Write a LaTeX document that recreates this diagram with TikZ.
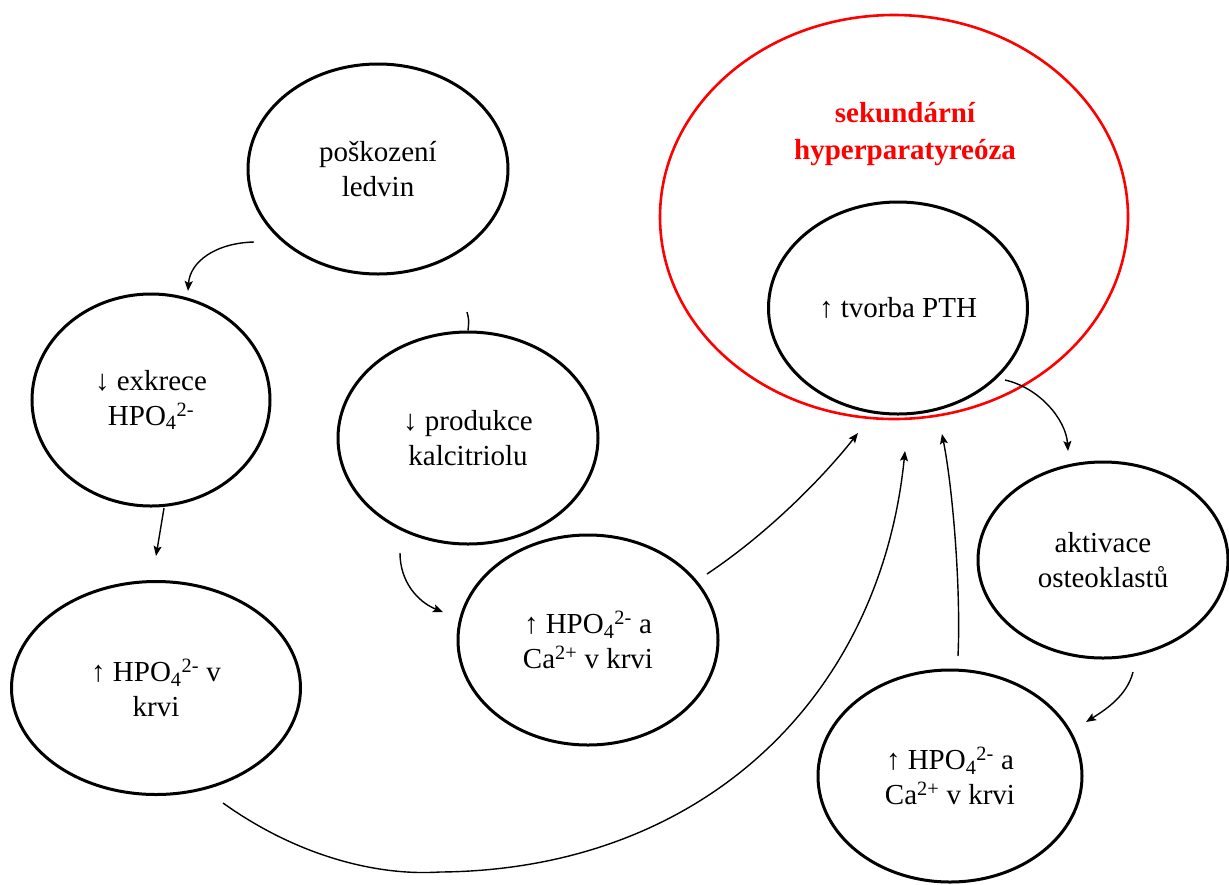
\documentclass[tikz,border=0pt]{standalone}
\usepackage{fontspec}
\setmainfont{Liberation Serif}
\usetikzlibrary{shapes.geometric,arrows.meta}
\definecolor{pathred}{RGB}{255,0,0}
\begin{document}
\begin{tikzpicture}[x=1pt,y=-1pt,
  bub/.style={ellipse,draw=black,line width=3pt,inner sep=0pt,align=center,
    font=\fontsize{29}{35}\selectfont},
  conn/.style={line width=1.4pt,-{Stealth[length=10pt,width=8pt,inset=2pt]}},
  plain/.style={line width=1.4pt},
]
\useasboundingbox (0,0) rectangle (1229,884);
% red container
\node[ellipse,draw=pathred,line width=2.6pt,minimum width=468pt,minimum height=404pt,inner sep=0pt] (sec) at (894,217) {};
\node[text=pathred,align=center,font=\bfseries\fontsize{29}{37}\selectfont] (sectitle) at (905,134) {sekundární\\hyperparatyreóza};
% bubbles
\node[bub,minimum width=260pt,minimum height=210pt] (kid) at (378,169) {poškození\\ledvin};
\node[bub,minimum width=238pt,minimum height=212pt] (exc) at (151,400) {↓ exkrece\\HPO\textsubscript{4}\textsuperscript{2-}};
\node[bub,minimum width=260pt,minimum height=212pt] (cal) at (468,438) {↓ produkce\\kalcitriolu};
\node[bub,minimum width=289pt,minimum height=213pt] (blood) at (156,688) {↑ HPO\textsubscript{4}\textsuperscript{2-} v\\krvi};
\node[bub,minimum width=260pt,minimum height=210pt] (mid) at (588,640) {↑ HPO\textsubscript{4}\textsuperscript{2-} a\\Ca\textsuperscript{2+} v krvi};
\node[bub,minimum width=259pt,minimum height=212pt] (pth) at (898,308) {↑ tvorba PTH};
\node[bub,minimum width=250pt,minimum height=196pt] (ost) at (1103,560) {aktivace\\osteoklastů};
\node[bub,minimum width=264pt,minimum height=212pt] (bone) at (950,776) {↑ HPO\textsubscript{4}\textsuperscript{2-} a\\Ca\textsuperscript{2+} v krvi};
% connector end points
\coordinate (a1s) at (254,242);
\coordinate (a1e) at (188,291);
\coordinate (a2s) at (164,508);
\coordinate (a2e) at (156,556);
\coordinate (a3s) at (467,312);
\coordinate (a4s) at (400,553);
\coordinate (a4e) at (443,612);
\coordinate (a5s) at (707,574);
\coordinate (a5e) at (858,433);
\coordinate (a6s) at (223,803);
\coordinate (a6m) at (440,872);
\coordinate (a6e) at (905,451);
\coordinate (a7s) at (958,656);
\coordinate (a7e) at (942,434);
\coordinate (a8s) at (1005,380);
\coordinate (a8e) at (1068,451);
\coordinate (a9s) at (1133,672);
\coordinate (a9e) at (1086,722);
% connectors
\draw[conn] (a1s) .. controls (215,243) and (190,262) .. (a1e);
\draw[conn] (a2s) -- (a2e);
\draw[plain] (a3s) .. controls (469,320) .. (cal.north);
\draw[conn] (a4s) .. controls (400,582) and (418,602) .. (a4e);
\draw[conn] (a5s) .. controls (770,532) and (825,475) .. (a5e);
\draw[conn] (a6s) .. controls (300,858) and (380,876) .. (a6m) .. controls (700,870) and (880,700) .. (a6e);
\draw[conn] (a7s) .. controls (961,590) and (953,490) .. (a7e);
\draw[conn] (a8s) .. controls (1040,388) and (1066,420) .. (a8e);
\draw[conn] (a9s) .. controls (1127,696) and (1105,710) .. (a9e);
\end{tikzpicture}
\end{document}
